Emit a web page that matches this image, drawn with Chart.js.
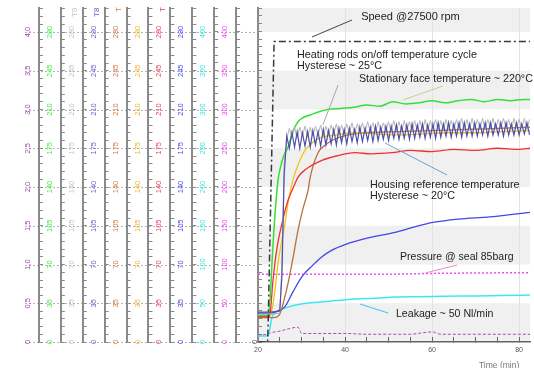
<!DOCTYPE html>
<html><head><meta charset="utf-8">
<script src="https://cdn.jsdelivr.net/npm/chart.js@4.4.1/dist/chart.umd.min.js"></script>
<style>html,body{margin:0;padding:0;background:#fff;}#wrap{width:534px;height:368px;}</style>
</head><body><div id="wrap"><canvas id="c" width="534" height="368"></canvas></div>
<script>
// ---------------- DATA ----------------
// Axes (left to right): label top value, major step, minor step
const AXIS_IDS   = ['yP','yG','yT9','yT8','yT7','yY','yR','yB','yC','yM','ySpeed'];
const AXIS_TOP   = [4, 280, 280, 280, 280, 280, 280, 280, 400, 400, 28000];
const AXIS_MAJOR = [0.5, 35, 35, 35, 35, 35, 35, 35, 50, 50, 3500];
const AXIS_MINOR = [0.1, 7, 7, 7, 7, 7, 7, 7, 10, 10, 700];
const AXIS_TITLES = ['', '', 'T9', 'T8', 'T', '', 'T', '', '', '', ''];
const X_LABELS = [20, 40, 60, 80];

// Speed (rpm)
const speedT = [20, 22.2, 22.3, 23.7, 82.5];
const speedV = [0, 0, 1100, 27150, 27150];
// Stationary face temperature (°C)
const greenT = [20, 22.3, 22.8, 23.4, 24.0, 24.6, 25.3, 26.0, 26.9, 28.0, 29.2, 30.5, 32, 34, 36, 39, 42, 45, 48, 51, 54, 57, 60, 63, 66, 69, 72, 75, 78, 81, 82.5];
const greenV = [24, 24, 40, 85, 120, 146, 160, 169, 176, 190, 199, 203, 205, 208, 210, 211, 212, 214, 213, 217, 215, 216, 218, 216, 218, 219, 217, 219, 218, 219, 219];
// Housing reference temperature
const redT = [20, 22.5, 22.8, 23.45, 24.4, 25.5, 26.9, 28.5, 29.2, 31, 34.7, 38, 42.3, 46, 50.8, 55, 60, 65, 70, 75, 80, 82.5];
const redV = [23, 23, 26, 56, 86, 107, 128, 143, 149, 156, 164, 168, 171, 170, 171, 173, 172, 174, 173, 175, 174, 175];
// Yellow temperature
const yellowT = [20, 22.6, 23.2, 24.0, 24.6, 25.4, 26.2, 27.0, 28.0, 29.2, 30.8, 32.5, 34.7, 38, 42.3, 47, 52, 58, 64, 70, 76, 82.5];
const yellowV = [24, 24, 29, 50, 71, 90, 107, 128, 146, 160, 173, 180, 185, 187, 189, 188, 187, 188, 189, 189, 190, 191];
// Brown temperature (T7)
const brownT = [20, 23.5, 24.5, 25.1, 26.0, 26.9, 28.0, 29.2, 30.3, 31.5, 32.0, 33.8, 35.5, 37.0, 40.7, 45, 52.6, 60, 68, 75, 82.5];
const brownV = [22, 22, 23, 26, 38, 53, 75, 101, 120, 137, 149, 171, 178, 182, 187, 189, 190, 191, 192, 193, 194];
// Blue temperature (slow rise)
const blueT = [20, 23, 23.9, 26.2, 28, 30.1, 32.5, 34.7, 37, 40, 45.3, 51.5, 56, 60.2, 66, 73.3, 78, 82.5];
const blueV = [26, 26, 27, 32, 45, 59, 69, 77, 83, 88, 94, 99, 104, 108, 111, 113, 115, 117];
// Heating-rod cycles T8 / T9
const t8StartT = [20, 23, 25.0, 25.5];
const t8StartV = [27, 27, 28, 60];
const t9StartT = [20, 23, 25.0, 25.5];
const t9StartV = [25, 25, 26, 70];
const zigT = [26.0,26.6,27.2,27.8,28.4,29.0,29.6,30.2,30.8,31.4,
  32.0,32.6,33.2,33.8,34.4,35.0,35.6,36.2,36.8,37.4,
  38.0,38.6,39.2,39.8,40.4,41.0,41.6,42.2,42.8,43.4,
  44.0,44.6,45.2,45.8,46.4,47.0,47.6,48.2,48.8,49.4,
  50.0,50.6,51.2,51.8,52.4,53.0,53.6,54.2,54.8,55.4,
  56.0,56.6,57.2,57.8,58.4,59.0,59.6,60.2,60.8,61.4,
  62.0,62.6,63.2,63.8,64.4,65.0,65.6,66.2,66.8,67.4,
  68.0,68.6,69.2,69.8,70.4,71.0,71.6,72.2,72.8,73.4,
  74.0,74.6,75.2,75.8,76.4,77.0,77.6,78.2,78.8,79.4,
  80.0,80.6,81.2,81.8,82.4];
const t8ZigV = [150,186,175,189,176,190,175,189,177,190,
  176,191,178,190,177,192,178,191,179,192,
  178,193,180,192,179,193,181,192,180,194,
  181,193,182,194,181,195,182,194,183,195,
  182,195,184,196,183,195,184,196,183,197,
  184,196,185,197,184,196,185,197,184,198,
  185,197,186,198,185,197,186,198,185,198,
  186,197,186,198,186,197,187,198,186,198,
  187,197,187,198,186,198,187,197,187,198,
  187,197,188,198,187];
const t9ZigV = [160,183,193,185,194,184,194,186,195,185,
  194,186,195,187,196,186,195,187,196,188,
  197,187,196,188,197,189,198,188,197,189,
  198,189,199,190,198,189,199,190,198,190,
  199,190,200,191,199,190,200,191,199,191,
  200,190,200,191,201,191,200,192,201,191,
  200,192,201,191,200,192,201,192,202,191,
  201,192,202,192,201,193,202,192,201,193,
  202,192,201,193,202,193,201,192,202,193,
  201,193,202,192,201];
// Leakage (Nl/min)
const cyanT = [20, 22.3, 22.8, 23.2, 23.9, 25, 26.9, 30, 34.7, 38, 42.3, 47, 51.5, 57, 63, 70, 76, 82.5];
const cyanV = [7.7, 8, 20, 32, 37, 41, 45, 49, 51.6, 53.5, 55.5, 56.5, 58, 58.5, 59, 59.5, 60, 60.5];
// Pressure at seal (barg)
const pressT = [20, 30, 40, 50, 60, 70, 82.5];
const pressV = [87.5, 87.5, 87.5, 87.5, 88.5, 89, 89.5];
// Small purple signal
const purpleT = [20, 22.3, 23, 25, 27, 29.2, 30, 35, 40, 45, 50, 55, 58, 60, 62, 65, 70, 75, 82.5];
const purpleV = [0.09, 0.1, 0.12, 0.14, 0.17, 0.19, 0.11, 0.11, 0.11, 0.1, 0.1, 0.1, 0.12, 0.13, 0.1, 0.1, 0.1, 0.1, 0.1];

// ---------------- STYLE / LAYOUT ----------------
const FONT = '"Liberation Sans", Arial, sans-serif';
const AXIS_COLORS = ['#a43cb4','#3cf03c','#c4c4c4','#6464c8','#d2783c','#f0b428','#f03c50','#4646f0','#3ce6e6','#f046f0','#505050'];
const RANGE = 334 / 310;       // plot top above the last labelled tick
const AXIS_W = 241 / 11;
const TICK_FONT = 7.5;

const mctx = document.createElement('canvas').getContext('2d');
mctx.font = TICK_FONT + 'px ' + FONT;
function isMajor(i, v) { const r = v / AXIS_MAJOR[i]; return Math.abs(r - Math.round(r)) < 1e-6; }
function fmt(i, v) {
  if (i === 0) return Math.abs(v) < 1e-9 ? '0' : v.toFixed(1).replace('.', ',');
  return String(Math.round(v));
}
function widest(i) {
  let w = 0;
  for (let k = 0; k * AXIS_MAJOR[i] <= AXIS_TOP[i] + 1e-9; k++) w = Math.max(w, mctx.measureText(fmt(i, k * AXIS_MAJOR[i])).width);
  return w;
}

const scales = {
  x: {
    type: 'linear', position: 'bottom', min: 20, max: 82.5,
    afterFit: s => { s.height = 26; s.paddingLeft = 0; s.paddingRight = 0; },
    ticks: { stepSize: 5, autoSkip: false, includeBounds: false, maxRotation: 0, padding: 9, color: '#555',
      font: { family: FONT, size: 7 },
      callback: v => X_LABELS.includes(v) ? String(v) : '' },
    grid: { drawTicks: true, tickLength: -5, tickColor: '#666', tickWidth: 1,
      color: c => (c.tick && c.tick.value % 20 === 0 && c.tick.value > 20) ? '#e2e2e2' : 'rgba(0,0,0,0)' },
    border: { display: true, color: '#666', width: 1.5 }
  }
};
AXIS_IDS.forEach((id, i) => {
  scales[id] = {
    type: 'linear', position: 'left', weight: 20 - i,
    min: 0, max: AXIS_TOP[i] * RANGE,
    afterFit: s => { s.width = AXIS_W; s.paddingTop = 0; s.paddingBottom = 0; },
    ticks: { stepSize: AXIS_MINOR[i], autoSkip: false, includeBounds: false,
      minRotation: 90, maxRotation: 90, crossAlign: 'center',
      padding: 15 - widest(i) / 2, color: AXIS_COLORS[i],
      font: { family: FONT, size: TICK_FONT },
      callback: v => isMajor(i, v) ? fmt(i, v) : '' },
    grid: { drawOnChartArea: false, drawTicks: true, tickLength: -4, tickColor: '#888', tickWidth: 1 },
    border: { display: true, color: '#8a8a8a', width: 2 }
  };
});

const pts = (T, V) => T.map((t, k) => ({ x: t, y: V[k] }));
const line = (label, data, axis, color, w, extra) => Object.assign({
  label, data, yAxisID: axis, borderColor: color, borderWidth: w, pointRadius: 0, fill: false,
  cubicInterpolationMode: 'monotone'
}, extra || {});

const datasets = [
  line('Speed', pts(speedT, speedV), 'ySpeed', '#3a3a3a', 1.5, { borderDash: [7, 3, 2, 3], cubicInterpolationMode: 'default', tension: 0 }),
  line('T8', pts(t8StartT.concat(zigT), t8StartV.concat(t8ZigV)), 'yT8', '#4e4ea8', 1.2, { cubicInterpolationMode: 'default', tension: 0 }),
  line('T9', pts(t9StartT.concat(zigT), t9StartV.concat(t9ZigV)), 'yT9', '#b4b4b4', 1, { cubicInterpolationMode: 'default', tension: 0 }),
  line('Stationary face', pts(greenT, greenV), 'yG', '#33e033', 1.5),
  line('Housing', pts(redT, redV), 'yR', '#f03030', 1.3),
  line('Yellow', pts(yellowT, yellowV), 'yY', '#f2c21c', 1.3),
  line('T7', pts(brownT, brownV), 'yT7', '#b87040', 1.3),
  line('Blue', pts(blueT, blueV), 'yB', '#4545e8', 1.3),
  line('Leakage', pts(cyanT, cyanV), 'yC', '#3ce8f0', 1.5),
  line('Pressure', pts(pressT, pressV), 'yM', '#ee50ee', 1.5, { borderDash: [2, 2] }),
  line('Purple', pts(purpleT, purpleV), 'yP', '#a050a8', 1, { borderDash: [3, 2] })
];

// Annotations (data coordinates: minutes, rpm on speed axis)
const NOTES = [
  { lines: ['Speed @27500 rpm'], t: 43.7, v: 29355, size: 11 },
  { lines: ['Heating rods on/off temperature cycle', 'Hysterese ~ 25°C'], t: 28.97, v: 25922, size: 10.8 },
  { lines: ['Stationary face temperature ~ 220°C'], t: 43.2, v: 23754, size: 10.7 },
  { lines: ['Housing reference temperature', 'Hysterese ~ 20°C'], t: 45.75, v: 14180, size: 10.8 },
  { lines: ['Pressure @ seal 85barg'], t: 52.65, v: 7677, size: 10.5 },
  { lines: ['Leakage ~ 50 Nl/min'], t: 51.7, v: 2529, size: 10.6 }
];
const POINTERS = [
  { t1: 32.4, v1: 27548, t2: 41.6, v2: 29083, color: '#444' },
  { t1: 38.4, v1: 23212, t2: 34.9, v2: 19600, color: '#a8a8a8' },
  { t1: 53.3, v1: 21857, t2: 62.5, v2: 23122, color: '#b4d88c' },
  { t1: 49.2, v1: 17974, t2: 63.45, v2: 15083, color: '#6f9fd8' },
  { t1: 58.4, v1: 6232, t2: 65.75, v2: 6955, color: '#f08ad0' },
  { t1: 43.45, v1: 3432, t2: 49.9, v2: 2619, color: '#3cc8e8' }
];

const decor = {
  id: 'decor',
  beforeDraw(chart) {
    const ctx = chart.ctx, a = chart.chartArea, ys = chart.scales.ySpeed;
    ctx.save();
    ctx.fillStyle = '#f0f0f0';
    for (let k = 0; k * AXIS_MAJOR[10] < ys.max; k += 2) {
      const y0 = ys.getPixelForValue(k * AXIS_MAJOR[10]);
      const y1 = ys.getPixelForValue(Math.min((k + 1) * AXIS_MAJOR[10], ys.max));
      ctx.fillRect(a.left, y1, a.right - a.left, y0 - y1);
    }
    const x0 = chart.scales[AXIS_IDS[0]].left;
    ctx.strokeStyle = '#b4b4b4'; ctx.lineWidth = 1; ctx.setLineDash([2, 2]);
    for (let v = 0; v <= AXIS_TOP[10]; v += AXIS_MAJOR[10]) {
      const y = Math.round(ys.getPixelForValue(v)) + 0.5;
      ctx.beginPath(); ctx.moveTo(x0 + 8, y); ctx.lineTo(a.left, y); ctx.stroke();
    }
    ctx.restore();
  },
  afterDatasetsDraw(chart) {
    const ctx = chart.ctx, xs = chart.scales.x, ys = chart.scales.ySpeed;
    ctx.save();
    POINTERS.forEach(p => {
      ctx.strokeStyle = p.color; ctx.lineWidth = 1;
      ctx.beginPath();
      ctx.moveTo(xs.getPixelForValue(p.t1), ys.getPixelForValue(p.v1));
      ctx.lineTo(xs.getPixelForValue(p.t2), ys.getPixelForValue(p.v2));
      ctx.stroke();
    });
    ctx.fillStyle = '#222'; ctx.textAlign = 'left'; ctx.textBaseline = 'middle';
    NOTES.forEach(n => {
      ctx.font = n.size + 'px ' + FONT;
      const x = xs.getPixelForValue(n.t), y = ys.getPixelForValue(n.v);
      n.lines.forEach((s, k) => ctx.fillText(s, x, y + k * 11));
    });
    ctx.restore();
  },
  afterDraw(chart) {
    const ctx = chart.ctx, xs = chart.scales.x;
    ctx.save();
    ctx.font = '8px ' + FONT; ctx.textAlign = 'left'; ctx.textBaseline = 'middle';
    AXIS_IDS.forEach((id, i) => {
      if (!AXIS_TITLES[i]) return;
      const s = chart.scales[id];
      ctx.save();
      ctx.translate(s.right - 8, AXIS_TITLES[i].length > 1 ? 17 : 12);
      ctx.rotate(-Math.PI / 2);
      ctx.fillStyle = AXIS_COLORS[i];
      ctx.fillText(AXIS_TITLES[i], 0, 0);
      ctx.restore();
    });
    ctx.font = '8.5px ' + FONT; ctx.fillStyle = '#777'; ctx.textAlign = 'center';
    ctx.fillText('Time (min)', xs.getPixelForValue(75.4), chart.height - 2);
    ctx.restore();
  }
};

new Chart(document.getElementById('c'), {
  type: 'line',
  data: { datasets },
  options: {
    responsive: false, animation: false, devicePixelRatio: 1,
    layout: { padding: { left: 17, top: 8, right: 4, bottom: 0 } },
    plugins: { legend: { display: false }, tooltip: { enabled: false } },
    scales
  },
  plugins: [decor]
});
</script></body></html>
